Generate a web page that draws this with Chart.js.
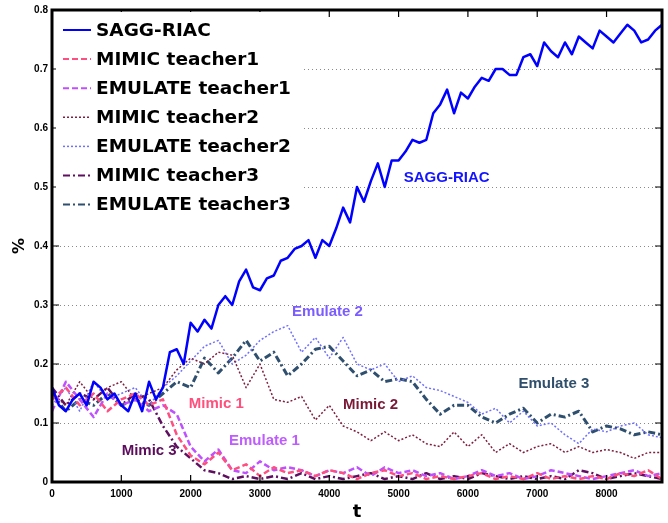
<!DOCTYPE html>
<html>
<head>
<meta charset="utf-8">
<script src="https://cdn.jsdelivr.net/npm/chart.js@4"></script>
<style>
  html, body { margin: 0; padding: 0; background: #fff; }
</style>
</head>
<body>
<canvas id="chart" width="668" height="523"></canvas>
<script>
// time steps (fine grid for SAGG-RIAC, coarser one for the teacher runs)
const tFine = [0, 100, 200, 300, 400, 500, 600, 700, 800, 900,
  1000, 1100, 1200, 1300, 1400, 1500, 1600, 1700, 1800, 1900,
  2000, 2100, 2200, 2300, 2400, 2500, 2600, 2700, 2800, 2900,
  3000, 3100, 3200, 3300, 3400, 3500, 3600, 3700, 3800, 3900,
  4000, 4100, 4200, 4300, 4400, 4500, 4600, 4700, 4800, 4900,
  5000, 5100, 5200, 5300, 5400, 5500, 5600, 5700, 5800, 5900,
  6000, 6100, 6200, 6300, 6400, 6500, 6600, 6700, 6800, 6900,
  7000, 7100, 7200, 7300, 7400, 7500, 7600, 7700, 7800, 7900,
  8000, 8100, 8200, 8300, 8400, 8500, 8600, 8700, 8800];
const tCoarse = [0, 200, 400, 600, 800, 1000, 1200, 1400, 1600, 1800,
  2000, 2200, 2400, 2600, 2800, 3000, 3200, 3400, 3600, 3800,
  4000, 4200, 4400, 4600, 4800, 5000, 5200, 5400, 5600, 5800,
  6000, 6200, 6400, 6600, 6800, 7000, 7200, 7400, 7600, 7800,
  8000, 8200, 8400, 8600, 8800];

const saggRiac = [0.16, 0.13, 0.12, 0.14, 0.15, 0.13, 0.17, 0.16, 0.14, 0.15,
  0.13, 0.12, 0.15, 0.12, 0.17, 0.14, 0.16, 0.22, 0.225, 0.20,
  0.27, 0.255, 0.275, 0.26, 0.30, 0.315, 0.30, 0.34, 0.36, 0.33,
  0.325, 0.345, 0.35, 0.375, 0.38, 0.395, 0.40, 0.41, 0.38, 0.41,
  0.40, 0.43, 0.465, 0.44, 0.50, 0.475, 0.51, 0.54, 0.50, 0.545,
  0.545, 0.56, 0.58, 0.575, 0.58, 0.625, 0.64, 0.665, 0.625, 0.66,
  0.65, 0.67, 0.685, 0.68, 0.70, 0.70, 0.69, 0.69, 0.72, 0.725,
  0.705, 0.745, 0.73, 0.72, 0.745, 0.725, 0.755, 0.745, 0.735, 0.765,
  0.755, 0.745, 0.76, 0.775, 0.765, 0.745, 0.75, 0.765, 0.775];

const mimic1 = [0.14, 0.16, 0.13, 0.15, 0.12, 0.14, 0.15, 0.13, 0.14, 0.08,
  0.045, 0.03, 0.05, 0.02, 0.03, 0.01, 0.025, 0.015, 0.02, 0.01,
  0.02, 0.015, 0.005, 0.015, 0.02, 0.01, 0.015, 0.005, 0.01, 0.005,
  0.01, 0.015, 0.005, 0.01, 0.005, 0.015, 0.005, 0.01, 0.005, 0.01,
  0.005, 0.015, 0.01, 0.02, 0.005];
const emulate1 = [0.12, 0.17, 0.14, 0.11, 0.15, 0.13, 0.14, 0.12, 0.13, 0.115,
  0.06, 0.035, 0.055, 0.02, 0.015, 0.035, 0.02, 0.025, 0.02, 0.01,
  0.02, 0.015, 0.025, 0.01, 0.025, 0.015, 0.02, 0.01, 0.015, 0.005,
  0.01, 0.02, 0.01, 0.015, 0.005, 0.01, 0.02, 0.015, 0.01, 0.005,
  0.01, 0.015, 0.02, 0.01, 0.015];
const mimic2 = [0.15, 0.13, 0.17, 0.14, 0.16, 0.17, 0.14, 0.15, 0.16, 0.19,
  0.21, 0.20, 0.22, 0.215, 0.16, 0.20, 0.14, 0.135, 0.145, 0.105,
  0.13, 0.095, 0.085, 0.07, 0.085, 0.07, 0.08, 0.065, 0.06, 0.085,
  0.06, 0.08, 0.05, 0.065, 0.05, 0.06, 0.065, 0.05, 0.06, 0.05,
  0.055, 0.05, 0.04, 0.05, 0.05];
const emulate2 = [0.13, 0.16, 0.12, 0.17, 0.14, 0.15, 0.16, 0.13, 0.16, 0.18,
  0.205, 0.23, 0.24, 0.20, 0.215, 0.24, 0.255, 0.265, 0.22, 0.245,
  0.21, 0.245, 0.20, 0.19, 0.20, 0.17, 0.18, 0.16, 0.155, 0.145,
  0.135, 0.115, 0.125, 0.10, 0.12, 0.095, 0.10, 0.08, 0.065, 0.09,
  0.085, 0.095, 0.10, 0.08, 0.075];
const mimic3 = [0.16, 0.13, 0.15, 0.14, 0.16, 0.13, 0.15, 0.14, 0.095, 0.06,
  0.04, 0.02, 0.015, 0.005, 0.01, 0.005, 0.01, 0.005, 0.015, 0.005,
  0.01, 0.005, 0.01, 0.015, 0.005, 0.01, 0.005, 0.015, 0.005, 0.01,
  0.005, 0.015, 0.01, 0.005, 0.01, 0.005, 0.01, 0.005, 0.02, 0.015,
  0.005, 0.01, 0.015, 0.01, 0.005];
const emulate3 = [0.15, 0.12, 0.14, 0.13, 0.15, 0.13, 0.14, 0.13, 0.15, 0.17,
  0.16, 0.21, 0.185, 0.21, 0.24, 0.205, 0.22, 0.18, 0.20, 0.225,
  0.23, 0.205, 0.18, 0.19, 0.17, 0.175, 0.17, 0.14, 0.115, 0.13,
  0.13, 0.11, 0.10, 0.115, 0.125, 0.10, 0.115, 0.11, 0.12, 0.085,
  0.095, 0.09, 0.08, 0.085, 0.08];

const xTickValues = [0, 1000, 2000, 3000, 4000, 5000, 6000, 7000, 8000];
const yTickValues = [0, 0.1, 0.2, 0.3, 0.4, 0.5, 0.6, 0.7, 0.8];

// in-plot text labels: [text, t, value, colour]
const notes = [
  ['SAGG-RIAC', 5694, 0.515, '#1414ff'],
  ['Emulate 2', 3974, 0.289, '#7b5cff'],
  ['Emulate 3', 7240, 0.167, '#2f4f6b'],
  ['Mimic 2', 4595, 0.130, '#7a1838'],
  ['Mimic 1', 2370, 0.132, '#ff4f7c'],
  ['Emulate 1', 3064, 0.069, '#bf5cff'],
  ['Mimic 3', 1402, 0.052, '#5c0c5c']
];

function pts(ts, vs) {
  return ts.map((t, i) => ({ x: t, y: vs[i] }));
}

function line(label, ts, vs, color, width, dash) {
  return {
    label: label,
    data: pts(ts, vs),
    borderColor: color,
    borderWidth: width,
    borderDash: dash,
    pointRadius: 0,
    tension: 0,
    fill: false,
    borderJoinStyle: 'round'
  };
}

const frame = {
  id: 'frame',
  beforeDatasetsDraw(chart) {
    const ctx = chart.ctx, a = chart.chartArea, ys = chart.scales.y;
    ctx.save();
    ctx.strokeStyle = '#8a8a8a';
    ctx.lineWidth = 1;
    ctx.setLineDash([1, 3]);
    yTickValues.slice(1, -1).forEach(v => {
      const y = Math.round(ys.getPixelForValue(v)) + 0.5;
      ctx.beginPath(); ctx.moveTo(a.left, y); ctx.lineTo(a.right, y); ctx.stroke();
    });
    ctx.restore();
  },
  afterDatasetsDraw(chart) {
    const ctx = chart.ctx, a = chart.chartArea;
    const xs = chart.scales.x, ys = chart.scales.y;
    ctx.save();
    ctx.strokeStyle = '#000';
    ctx.lineWidth = 1.2;
    xTickValues.forEach(v => {
      const x = xs.getPixelForValue(v);
      ctx.beginPath(); ctx.moveTo(x, a.top); ctx.lineTo(x, a.top + 7);
      ctx.moveTo(x, a.bottom); ctx.lineTo(x, a.bottom - 7); ctx.stroke();
    });
    yTickValues.forEach(v => {
      const y = ys.getPixelForValue(v);
      ctx.beginPath(); ctx.moveTo(a.left, y); ctx.lineTo(a.left + 7, y);
      ctx.moveTo(a.right, y); ctx.lineTo(a.right - 7, y); ctx.stroke();
    });
    ctx.lineWidth = 3;
    ctx.strokeRect(a.left, a.top, a.right - a.left, a.bottom - a.top);

    ctx.font = 'bold 15px "Liberation Sans", Arial, sans-serif';
    ctx.textAlign = 'center';
    ctx.textBaseline = 'middle';
    notes.forEach(n => {
      ctx.fillStyle = n[3];
      ctx.fillText(n[0], xs.getPixelForValue(n[1]), ys.getPixelForValue(n[2]));
    });
    ctx.restore();
  },
  afterDraw(chart) {
    const ctx = chart.ctx;
    ctx.save();
    ctx.fillStyle = '#fff';
    ctx.fillRect(56, 12, 246, 208);
    ctx.font = 'bold 18.5px "DejaVu Sans"';
    ctx.textAlign = 'left';
    ctx.textBaseline = 'middle';
    chart.data.datasets.forEach((ds, i) => {
      const y = 30 + i * 29.1;
      ctx.strokeStyle = ds.borderColor;
      ctx.lineWidth = Math.min(ds.borderWidth, 2);
      ctx.setLineDash(ds.borderDash || []);
      ctx.beginPath(); ctx.moveTo(63, y); ctx.lineTo(91, y); ctx.stroke();
      ctx.setLineDash([]);
      ctx.fillStyle = '#000';
      ctx.fillText(ds.label, 96, y + 1);
    });
    ctx.restore();
  }
};

new Chart(document.getElementById('chart'), {
  type: 'line',
  data: {
    datasets: [
      line('SAGG-RIAC', tFine, saggRiac, '#0000ff', 2.5, []),
      line('MIMIC teacher1', tCoarse, mimic1, '#ff4f80', 2.5, [6, 3]),
      line('EMULATE teacher1', tCoarse, emulate1, '#bf50ff', 2.5, [6, 3]),
      line('MIMIC teacher2', tCoarse, mimic2, '#7f1f3f', 1.5, [2, 2]),
      line('EMULATE teacher2', tCoarse, emulate2, '#7070ff', 1.5, [2, 2]),
      line('MIMIC teacher3', tCoarse, mimic3, '#5f0f5f', 2.5, [7, 3, 2, 3]),
      line('EMULATE teacher3', tCoarse, emulate3, '#2f4f6f', 3, [7, 3, 2, 3])
    ]
  },
  options: {
    responsive: false,
    animation: false,
    layout: { padding: { left: 0, top: 8, right: 6, bottom: 0 } },
    plugins: { legend: { display: false }, tooltip: { enabled: false } },
    scales: {
      x: {
        type: 'linear',
        min: 0,
        max: 8800,
        afterBuildTicks: s => { s.ticks = xTickValues.map(v => ({ value: v })); },
        afterFit: s => { s.height = 41; },
        grid: { display: false, drawTicks: false },
        border: { display: false },
        ticks: { padding: 6, color: '#000', font: { family: 'Liberation Sans', weight: 'bold', size: 10 }, maxRotation: 0,
          callback: v => String(v) },
        title: { display: true, text: 't', color: '#000', padding: 0, font: { family: 'DejaVu Sans', weight: 'bold', size: 18 } }
      },
      y: {
        min: 0,
        max: 0.8,
        afterBuildTicks: s => { s.ticks = yTickValues.map(v => ({ value: v })); },
        afterFit: s => { s.width = 52; },
        grid: { display: false, drawTicks: false },
        border: { display: false },
        ticks: { padding: 4, color: '#000', font: { family: 'Liberation Sans', weight: 'bold', size: 10 },
          callback: v => v === 0 ? '0' : v.toFixed(1) },
        title: { display: true, text: '%', color: '#000', padding: 10, font: { family: 'DejaVu Sans', weight: 'bold', size: 16 } }
      }
    }
  },
  plugins: [frame]
});
</script>
</body>
</html>
